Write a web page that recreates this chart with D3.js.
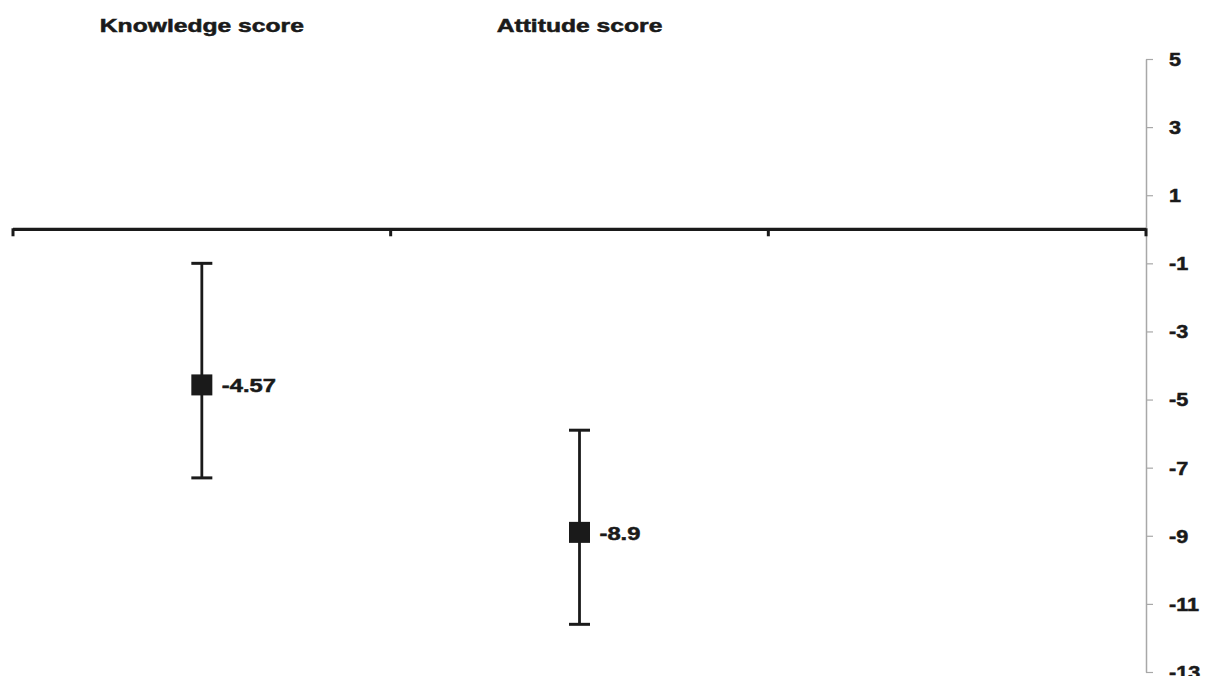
<!DOCTYPE html>
<html>
<head>
<meta charset="utf-8">
<script src="https://cdn.jsdelivr.net/npm/d3@7"></script>
<style>
  html, body { margin: 0; padding: 0; background: #fff; }
  svg { display: block; }
  text { font-family: "Liberation Sans", Arial, Helvetica, sans-serif; font-weight: bold; fill: #1a1a1a; stroke: #1a1a1a; stroke-width: 0.5px; }
</style>
</head>
<body>
<script>
// Categories along the horizontal axis (third slot is left empty)
const categories = ["Knowledge score", "Attitude score", ""];
// Point estimates and their interval bounds
const means = [-4.57, -8.9];
const lower = [-7.3, -11.6];
const upper = [-1.0, -5.9];
const valueLabels = ["-4.57", "-8.9"];
// Y axis tick values
const yTicks = [5, 3, 1, -1, -3, -5, -7, -9, -11, -13];

const W = 1205, H = 676;
const ink = "#1a1a1a";

const svg = d3.select("body").append("svg")
  .attr("width", W).attr("height", H);

const x = d3.scaleBand().domain(categories).range([13, 1146]).padding(0);
const y = d3.scaleLinear().domain([5, -13]).range([59, 672]);

// Right-hand value axis (plain hyphen for negatives)
const yAxis = d3.axisRight(y).tickValues(yTicks).tickSize(7).tickSizeOuter(0).tickFormat(d => String(d));
const gy = svg.append("g").attr("transform", `translate(${x.range()[1]},0)`).call(yAxis);
gy.select(".domain").attr("stroke", "#a8a8a8").attr("stroke-width", 1.5);
gy.selectAll(".tick line").attr("stroke", "#a8a8a8").attr("stroke-width", 1.2);
gy.selectAll(".tick text")
  .attr("x", null).attr("dy", null)
  .attr("text-anchor", "start")
  .attr("dominant-baseline", "central")
  .style("font-size", "18px")
  .attr("fill", ink)
  .attr("transform", "translate(23,0) scale(1.2,1)");

// Horizontal category axis at zero
const y0 = y(0);
const bounds = categories.map(c => x(c)).concat([x.range()[1]]);
svg.append("line")
  .attr("x1", x.range()[0]).attr("x2", x.range()[1])
  .attr("y1", y0).attr("y2", y0)
  .attr("stroke", ink).attr("stroke-width", 3.2);
svg.selectAll("line.xtick").data(bounds).enter().append("line")
  .attr("class", "xtick")
  .attr("x1", d => d).attr("x2", d => d)
  .attr("y1", y0 - 1).attr("y2", y0 + 7)
  .attr("stroke", ink).attr("stroke-width", 3);

// Category titles across the top
svg.selectAll("text.cat").data(categories.filter(c => c)).enter().append("text")
  .attr("class", "cat")
  .attr("text-anchor", "middle")
  .style("font-size", "18px")
  .attr("transform", d => `translate(${x(d) + x.bandwidth() / 2},32) scale(1.37,1)`)
  .text(d => d);

// Points with interval bars
const pts = means.map((m, i) => ({ cat: categories[i], m, lo: lower[i], hi: upper[i], label: valueLabels[i] }));
const cx = d => x(d.cat) + x.bandwidth() / 2;
const capW = 21, sq = 21;

const g = svg.append("g").selectAll("g").data(pts).enter().append("g");
g.append("line")
  .attr("x1", cx).attr("x2", cx)
  .attr("y1", d => y(d.hi)).attr("y2", d => y(d.lo))
  .attr("stroke", ink).attr("stroke-width", 2.8);
g.append("line")
  .attr("x1", d => cx(d) - capW / 2).attr("x2", d => cx(d) + capW / 2)
  .attr("y1", d => y(d.hi)).attr("y2", d => y(d.hi))
  .attr("stroke", ink).attr("stroke-width", 3);
g.append("line")
  .attr("x1", d => cx(d) - capW / 2).attr("x2", d => cx(d) + capW / 2)
  .attr("y1", d => y(d.lo)).attr("y2", d => y(d.lo))
  .attr("stroke", ink).attr("stroke-width", 3);
g.append("rect")
  .attr("x", d => cx(d) - sq / 2).attr("y", d => y(d.m) - sq / 2)
  .attr("width", sq).attr("height", sq)
  .attr("fill", ink);
g.append("text")
  .attr("dominant-baseline", "central")
  .style("font-size", "18px")
  .attr("transform", d => `translate(${cx(d) + 20},${y(d.m) + 1}) scale(1.32,1)`)
  .text(d => d.label);
</script>
</body>
</html>
